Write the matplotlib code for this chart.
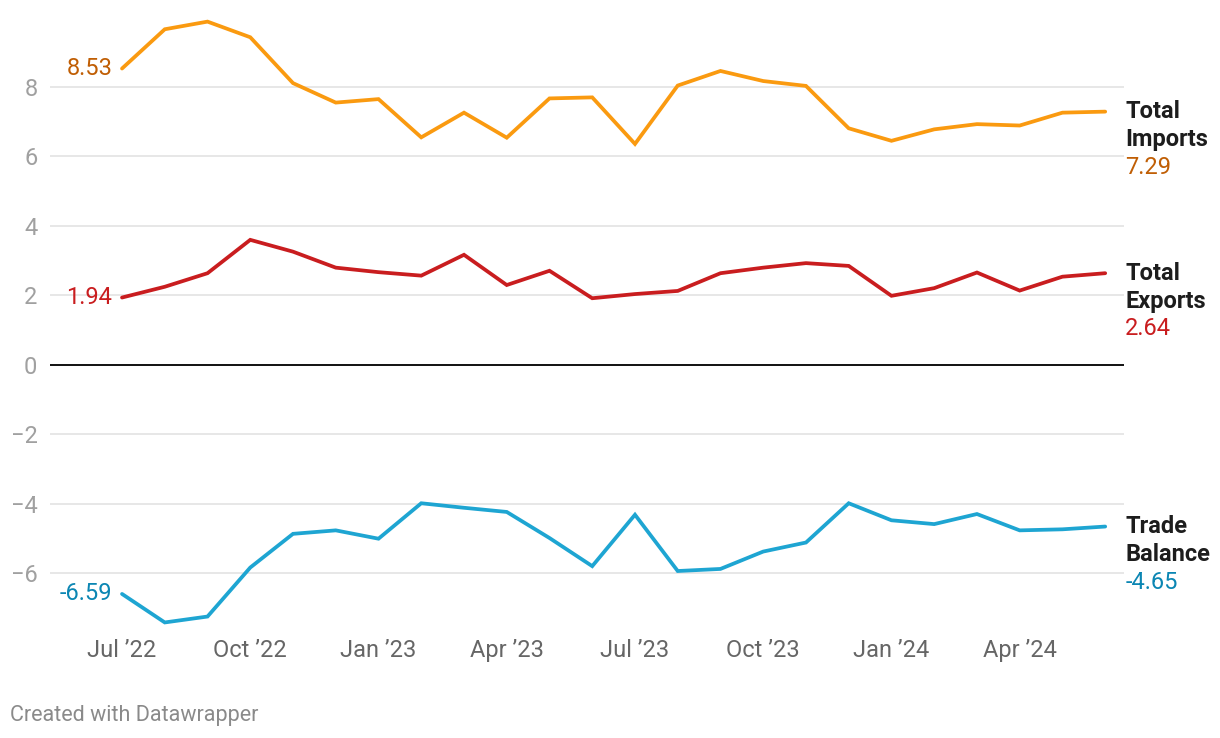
import matplotlib
matplotlib.use("Agg")
import matplotlib.pyplot as plt

plt.rcParams["font.family"] = ["Roboto", "DejaVu Sans"]

# Monthly values, Jul 2022 - Jun 2024
months = ["Jul '22", "Aug '22", "Sep '22", "Oct '22", "Nov '22", "Dec '22",
          "Jan '23", "Feb '23", "Mar '23", "Apr '23", "May '23", "Jun '23",
          "Jul '23", "Aug '23", "Sep '23", "Oct '23", "Nov '23", "Dec '23",
          "Jan '24", "Feb '24", "Mar '24", "Apr '24", "May '24", "Jun '24"]

imports = [8.53, 9.66, 9.88, 9.43, 8.11, 7.55, 7.65, 6.55, 7.26, 6.54, 7.67, 7.70,
           6.36, 8.04, 8.46, 8.17, 8.03, 6.81, 6.45, 6.78, 6.93, 6.89, 7.26, 7.29]
exports = [1.94, 2.25, 2.64, 3.60, 3.26, 2.80, 2.67, 2.57, 3.17, 2.30, 2.71, 1.92,
           2.04, 2.13, 2.64, 2.80, 2.93, 2.85, 1.99, 2.21, 2.66, 2.14, 2.54, 2.64]
balance = [-6.59, -7.41, -7.24, -5.83, -4.86, -4.76, -5.00, -3.98, -4.11, -4.23, -4.98, -5.79,
           -4.31, -5.93, -5.87, -5.37, -5.11, -3.98, -4.47, -4.58, -4.29, -4.76, -4.73, -4.65]

tick_idx = [0, 3, 6, 9, 12, 15, 18, 21]
tick_labels = ["Jul \u201922", "Oct \u201922", "Jan \u201923", "Apr \u201923",
               "Jul \u201923", "Oct \u201923", "Jan \u201924", "Apr \u201924"]
yticks = [-6, -4, -2, 0, 2, 4, 6, 8]

series = [
    (["Total", "Imports"], imports, "#fa9a10", "#c05e04"),
    (["Total", "Exports"], exports, "#c91d1f", "#c91d1f"),
    (["Trade", "Balance"], balance, "#1ea5d2", "#0b86b3"),
]

fig = plt.figure(figsize=(12.2, 7.38), dpi=100)
ax = fig.add_axes([50 / 1220, 1 - 636 / 738, 1074 / 1220, 625.5 / 738])

x = list(range(len(months)))
for y in yticks:
    if y == 0:
        ax.axhline(0, color="#111111", lw=1.4, zorder=2)
    else:
        ax.axhline(y, color="#e3e3e3", lw=1.2, zorder=1)

for words, vals, lc, tc in series:
    ax.plot(x, vals, color=lc, lw=2.7, solid_capstyle="round",
            solid_joinstyle="miter", zorder=3)
    ax.annotate(f"{vals[0]:.2f}", (x[0], vals[0]), xytext=(-7, 0),
                textcoords="offset points", ha="right", va="center",
                fontsize=17, color=tc)
    # right-hand label: two bold lines and the last value
    for k, w in enumerate(words):
        ax.annotate(w, (x[-1], vals[-1]), xytext=(14.4, -20.2 * k),
                    textcoords="offset points", ha="left", va="center",
                    fontsize=17, fontweight="bold", color="#1d1d1d",
                    annotation_clip=False)
    ax.annotate(f"{vals[-1]:.2f}", (x[-1], vals[-1]), xytext=(14.4, -40),
                textcoords="offset points", ha="left", va="center",
                fontsize=17, color=tc, annotation_clip=False)

ax.set_xlim(-1.685, 23.44)
ax.set_ylim(-7.8, 10.2)
ax.set_xticks(tick_idx)
ax.set_xticklabels(tick_labels)
ax.set_yticks(yticks)
ax.set_yticklabels([str(v).replace("-", "\u2212") for v in yticks])
ax.tick_params(axis="x", length=0, pad=2, labelsize=17, labelcolor="#666666")
ax.tick_params(axis="y", length=0, pad=9, labelsize=17, labelcolor="#a0a0a0")
for s in ax.spines.values():
    s.set_visible(False)

fig.text(10 / 1220, 1 - 715 / 738, "Created with Datawrapper", fontsize=15.5,
         color="#8a8a8a", ha="left", va="center")

fig.savefig("out.png", dpi=100)
